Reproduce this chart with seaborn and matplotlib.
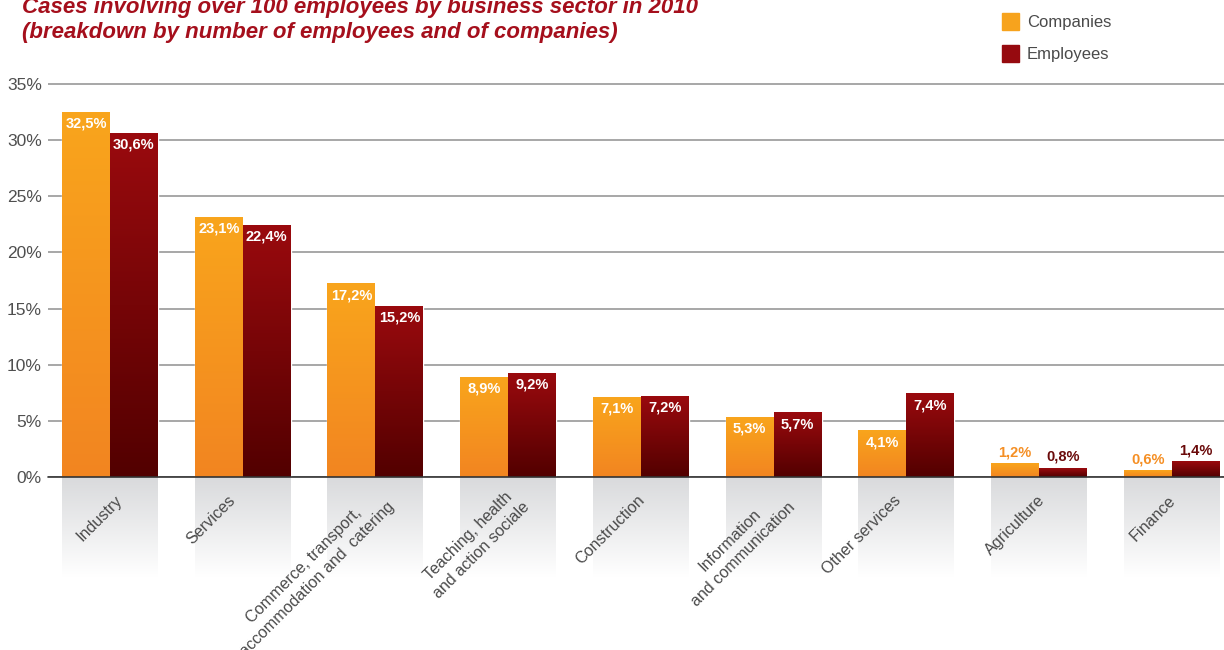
import numpy as np
import pandas as pd
import matplotlib
matplotlib.use("Agg")
import matplotlib.pyplot as plt
import seaborn as sns
from matplotlib.colors import LinearSegmentedColormap
from matplotlib.transforms import ScaledTranslation
from matplotlib.patches import Rectangle

# ---- data -------------------------------------------------------------
sectors = [
    "Industry",
    "Services",
    "Commerce, transport,\naccommodation and  catering",
    "Teaching, health\nand action sociale",
    "Construction",
    "Information\nand communication",
    "Other services",
    "Agriculture",
    "Finance",
]
companies = [32.5, 23.1, 17.2, 8.9, 7.1, 5.3, 4.1, 1.2, 0.6]
employees = [30.6, 22.4, 15.2, 9.2, 7.2, 5.7, 7.4, 0.8, 1.4]
series_names = ["Companies", "Employees"]
y_ticks = [0, 5, 10, 15, 20, 25, 30, 35]

# horizontal nudge (pixels) of each rotated category label
label_nudge_px = [10, -10, 10, 12, 1, 12, -8, 3, 1]

# ---- style ------------------------------------------------------------
sns.set_theme(style="white")
plt.rcParams["font.family"] = ["Liberation Sans", "DejaVu Sans"]

W, H = 1224, 650
fig = plt.figure(figsize=(W / 100, H / 100), dpi=100)
y_top = 35.2
ax = fig.add_axes([48 / W, (H - 477) / H, 1 - 48 / W, (477 - 81.7) / H])

df = pd.DataFrame({
    "sector": sectors * 2,
    "series": [series_names[0]] * len(sectors) + [series_names[1]] * len(sectors),
    "value": companies + employees,
})

solid = {"Companies": "#f7a31d", "Employees": "#960a0f"}
grad_colors = {
    "Companies": ("#f9a51c", "#f28521"),
    "Employees": ("#9a0a0e", "#520000"),
}
above_colors = {"Companies": "#f58f24", "Employees": "#6a0a0a"}

group_width = 0.723
sns.barplot(data=df, x="sector", y="value", hue="series", order=sectors,
            hue_order=series_names, palette=solid, width=group_width, gap=0,
            saturation=1, errorbar=None, legend=False, ax=ax)

ramp = np.linspace(0, 1, 256).reshape(-1, 1)

# vertical gradient inside every bar + value labels
for name, container in zip(series_names, ax.containers):
    cmap = LinearSegmentedColormap.from_list(name, grad_colors[name])
    for rect in container:
        x0, w, h = rect.get_x(), rect.get_width(), rect.get_height()
        ax.imshow(ramp, extent=[x0, x0 + w, 0, h], origin="upper",
                  aspect="auto", cmap=cmap, zorder=rect.get_zorder() + 0.1)
        rect.set_facecolor("none")
        label = f"{h:.1f}".replace(".", ",") + "%"
        cx = x0 + w / 2
        if h < 2:
            ax.annotate(label, (cx, h), xytext=(0, 3), textcoords="offset points",
                        ha="center", va="bottom", color=above_colors[name],
                        fontsize=10.5, fontweight="bold")
        else:
            ax.annotate(label, (cx, h), xytext=(0, -3), textcoords="offset points",
                        ha="center", va="top", color="white",
                        fontsize=10.5, fontweight="bold", zorder=10)

# grey fading panels under each category
data_per_px = y_top / (477 - 81.7)
panel_cmap = LinearSegmentedColormap.from_list("panel", ["#d9dadc", "#ffffff"])
for i in range(len(sectors)):
    im = ax.imshow(ramp, extent=[i - group_width / 2, i + group_width / 2,
                                 -100 * data_per_px, 0],
                   origin="upper", aspect="auto", cmap=panel_cmap, zorder=0)
    im.set_clip_on(False)

ax.set_xlim(-0.467, len(sectors) - 1 + 0.392)
ax.set_ylim(0, y_top)

# axes, grid and ticks
for s in ax.spines.values():
    s.set_visible(False)
ax.set_yticks(y_ticks)
ax.set_yticklabels([f"{v}%" for v in y_ticks])
ax.yaxis.grid(True, color="#8f8f8f", linewidth=1.1)
ax.xaxis.grid(False)
ax.set_axisbelow(True)
ax.axhline(0, color="#333333", linewidth=1.2, zorder=6, clip_on=False)
ax.tick_params(axis="y", length=0, pad=4.5, labelsize=12.5, labelcolor="#4f4f4f")
ax.tick_params(axis="x", length=0, pad=15, labelsize=11.6, labelcolor="#4a4a4a")
ax.set_xlabel("")
ax.set_ylabel("")

ax.set_xticks(range(len(sectors)))
ax.set_xticklabels(sectors, rotation=45, ha="right", va="center",
                   rotation_mode="anchor", multialignment="center",
                   linespacing=1.35)
for lbl, nudge in zip(ax.get_xticklabels(), label_nudge_px):
    lbl.set_transform(lbl.get_transform()
                      + ScaledTranslation(nudge / 100, 0, fig.dpi_scale_trans))

# title
title_color = "#a50f1c"
fig.text(22 / W, (H - 13) / H, "Cases involving over 100 employees by business sector in 2010",
         fontsize=16, fontweight="bold", style="italic", color=title_color, va="baseline")
fig.text(22 / W, (H - 38) / H, "(breakdown by number of employees and of companies)",
         fontsize=16, fontweight="bold", style="italic", color=title_color, va="baseline")

# legend
for name, top_px in zip(series_names, [13, 45]):
    fig.add_artist(Rectangle((1002 / W, (H - top_px - 17) / H), 17 / W, 17 / H,
                             transform=fig.transFigure, color=solid[name]))
    fig.text(1027 / W, (H - top_px - 9) / H, name, fontsize=12, color="#4a4a4a",
             va="center")

fig.savefig("out.png", dpi=100)
